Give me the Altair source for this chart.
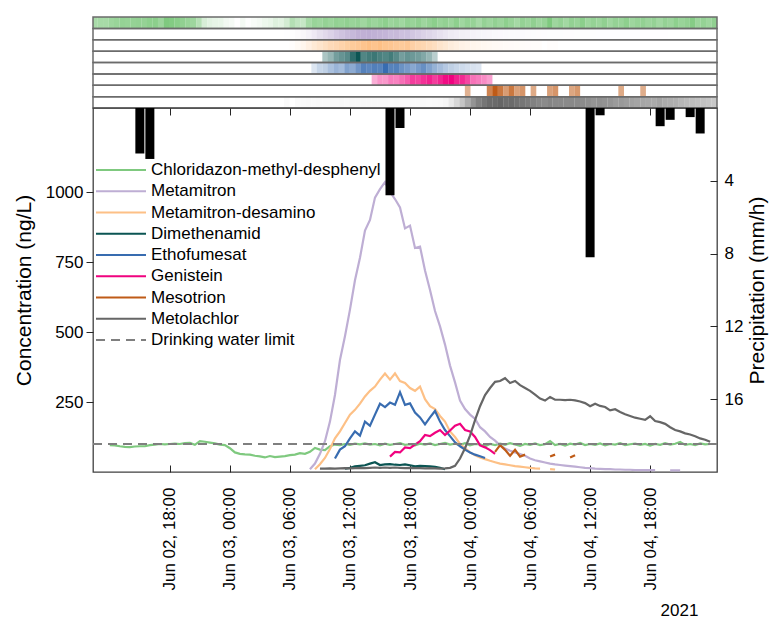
import altair as alt
import pandas as pd

FONT = "Liberation Sans"
W, H = 624, 364
HEAT_H = 91

series_names = ["Chloridazon-methyl-desphenyl", "Metamitron", "Metamitron-desamino",
                "Dimethenamid", "Ethofumesat", "Genistein", "Mesotrion", "Metolachlor"]
series_colors = ["#7fc97f", "#beaed4", "#fdc086", "#0b5553",
                 "#386cb0", "#f0027f", "#bf5b17", "#666666"]
heat_zero_based = [False, True, True, True, True, True, True, True]
limit_label = "Drinking water limit"
limit_color = "#7f7f7f"
limit_value = 100

base_time = "2021-06-02 18:00"
step_hours = 0.5
series_start_hours = [-6.0, 14.0, 14.5, 17.5, 16.5, 22.0, 30.5, 14.0]

chloridazon = [96, 95, 92, 90, 89, 91, 92, 92, 96, 98,
               100, 99, 100, 101, 100, 103, 104, 97, 110, 108,
               105, 102, 98, 96, 85, 70, 65, 63, 62, 58,
               56, 52, 57, 53, 55, 57, 60, 62, 67, 65,
               72, 86, 80, 78, 92, 98, 96, 100, 97, 101,
               99, 102, 98, 100, 95, 101, 97, 100, 103, 97,
               99, 95, 101, 98, 102, 96, 100, 104, 98, 101,
               97, 103, 95, 100, 99, 92, 100, 96, 101, 97,
               103, 98, 93, 100, 97, 102, 96, 99, 110, 96,
               100, 94, 101, 98, 104, 96, 100, 97, 102, 95,
               100, 98, 103, 96, 99, 101, 97, 100, 94, 100,
               97, 103, 98, 101, 107, 97, 100, 96, 102, 99,
               100]
metamitron = [10, 30, 65, 110, 180, 275, 400, 485, 580, 685,
              765, 862, 900, 980, 1010, 1035, 1000, 975, 945, 870,
              880, 800, 805, 720, 650, 575, 520, 455, 380, 320,
              255, 225, 205, 190, 160, 145, 125, 112, 95, 84,
              76, 70, 64, 58, 48, 42, 38, 34, 30, 27,
              25, 23, 21, 19, 17, 15, 14, 12, 11, 10,
              10, 9, 9, 8, 8, 7, 7, 7, 7, 7,
              None, None, 6, 6, 6]
metamitron_desamino = [10, 28, 50, 82, 120, 145, 175, 205, 222, 244,
                       270, 290, 305, 330, 352, 330, 352, 325, 318, 300,
                       290, 305, 260, 235, 225, 200, 180, 145, 125, 100,
                       85, 70, 60, 52, 46, 40, 35, 30, 27, 24,
                       21, 19, 17, 15, 13, 12, None, 10, 9]
dimethenamid = [12, 15, 20, 22, 24, 30, 35, 25, 27, 28,
                26, 25, 27, 24, 20, 22, 21, 20, 18, 15, 10]
ethofumesat = [48, 80, 92, 120, 145, 130, 180, 165, 205, 244,
               232, 248, 240, 285, 240, 245, 212, 195, 170, 195,
               218, 180, 150, 128, 106, 92, 80, 70, 62, 56, 50]
genistein = [55, 72, 70, 88, 85, 98, 110, 132, 128, 140,
             150, 132, 148, 165, 172, 150, 145, 125, 95, 88, 78, 65]
mesotrion = [45, None, None, None, 72, 96, 79, 58, 79, 55,
             62, None, 50, None, None, 55, 62, None, None, 52,
             60, None, None, None, None, None, None, None, 50, None,
             None, None, 48]
metolachlor = [10, None, 12, 12, 13, 12, 13, 14, 13, 14,
               15, 14, 15, 16, 15, 16, 15, 16, 15, 14,
               15, 14, 14, 13, 14, 13, 12, 13, 15, 22,
               48, 85, 130, 185, 235, 275, 300, 322, 325, 335,
               318, 325, 310, 300, 290, 276, 262, 255, 268, 258,
               258, 257, 258, 256, 252, 246, 235, 244, 236, 232,
               220, 224, 214, 206, 200, 194, 190, 186, 199, 182,
               178, 172, 160, 150, 145, 138, 134, 128, 120, 115, 108]
series_values = [chloridazon, metamitron, metamitron_desamino, dimethenamid,
                 ethofumesat, genistein, mesotrion, metolachlor]

precip_hours = [-3, -2, 22, 23, 42, 43, 49, 50, 52, 53]
precip_mmh = [2.5, 2.8, 4.8, 1.1, 8.2, 0.4, 1.0, 0.65, 0.5, 1.4]

x_domain = ["2021-06-02 10:49", "2021-06-05 00:11"]
heat_x_domain = ["2021-06-02 14:20", "2021-06-04 23:15"]
tick_times = ["2021-06-02 18:00", "2021-06-03 00:00", "2021-06-03 06:00",
              "2021-06-03 12:00", "2021-06-03 18:00", "2021-06-04 00:00",
              "2021-06-04 06:00", "2021-06-04 12:00", "2021-06-04 18:00"]
conc_ticks = [250, 500, 750, 1000]
conc_domain = [0, 1250]
precip_ticks = [4, 8, 12, 16]
precip_domain = [0, 20]


def dt(s):
    t = pd.Timestamp(s)
    return alt.DateTime(year=t.year, month=t.month, date=t.day,
                        hours=t.hour, minutes=t.minute)


base = pd.Timestamp(base_time)
rows = []
for name, start, vals in zip(series_names, series_start_hours, series_values):
    for i, v in enumerate(vals):
        rows.append({"series": name,
                     "time": base + pd.Timedelta(hours=start + i * step_hours),
                     "value": v})
df = pd.DataFrame(rows)
df["value"] = df["value"].astype(float)

heat = df.dropna().copy()
heat["t0"] = heat["time"] - pd.Timedelta(minutes=15)
heat["t1"] = heat["time"] + pd.Timedelta(minutes=16)

precip_df = pd.DataFrame({
    "time": [base + pd.Timedelta(hours=h) for h in precip_hours],
    "precip": precip_mmh,
})

xdom = [dt(s) for s in x_domain]
heat_xdom = [dt(s) for s in heat_x_domain]
xticks = [dt(s) for s in tick_times]
all_names = series_names + [limit_label]
all_colors = series_colors + [limit_color]
color_scale = alt.Scale(domain=all_names, range=all_colors)

# --- heat strips (one view, one band per series) ---
heat_y = alt.Y("series:N", scale=alt.Scale(domain=series_names, paddingInner=0, paddingOuter=0),
               axis=None)
heat_layers = []
for name, col, zb in zip(series_names, series_colors, heat_zero_based):
    sub = heat[heat["series"] == name]
    heat_layers.append(
        alt.Chart(sub).mark_rect(strokeWidth=0, clip=True).encode(
            x=alt.X("t0:T", scale=alt.Scale(domain=heat_xdom), axis=None),
            x2="t1:T",
            y=heat_y,
            color=alt.Color("value:Q",
                            scale=alt.Scale(range=["#ffffff", col], interpolate="rgb", zero=zb),
                            legend=None),
        )
    )
borders = alt.Chart(pd.DataFrame({"series": series_names})).mark_rect(
    fillOpacity=0, stroke="#6b6b6b", strokeWidth=1.5).encode(
    x=alt.value(0), x2=alt.value(W), y=heat_y)
heat_chart = alt.layer(*heat_layers, borders).resolve_scale(color="independent").properties(
    width=W, height=HEAT_H, view=alt.ViewBackground(stroke="transparent", strokeWidth=0))

# --- main plot ---
x_bottom = alt.X("time:T", scale=alt.Scale(domain=xdom),
                 axis=alt.Axis(orient="bottom", values=xticks, format="%b %d, %H:%M",
                               labelAngle=270, labelPadding=15, tickSize=7, offset=-7,
                               domain=False, grid=False, title="2021", titleX=586, titleY=145,
                               titleAngle=0, titleAlign="center", titleBaseline="middle",
                               titleFontSize=17))
conc_y = alt.Y("value:Q", scale=alt.Scale(domain=conc_domain),
               axis=alt.Axis(orient="left", values=conc_ticks, format="d", tickSize=7,
                             labelPadding=3, domain=False, grid=False,
                             title="Concentration (ng/L)", titlePadding=11))

lines = alt.Chart(df).mark_line(strokeWidth=2.2, invalid="break-paths-show-domains").encode(
    x=x_bottom,
    y=conc_y,
    color=alt.Color("series:N", scale=color_scale, legend=None),
    detail="series:N",
)
limit = alt.Chart(pd.DataFrame({"value": [limit_value]})).mark_rule(
    color=limit_color, strokeDash=[9, 6], strokeWidth=2.2).encode(y="value:Q")
conc_layer = alt.layer(lines, limit)

bars = alt.Chart(precip_df).mark_bar(color="black", size=9).encode(
    x=alt.X("time:T", scale=alt.Scale(domain=xdom),
            axis=alt.Axis(orient="top", values=xticks, labels=False, tickSize=7, offset=-7,
                          domain=False, grid=False, title=None)),
    y=alt.Y("precip:Q", scale=alt.Scale(domain=precip_domain, reverse=True),
            axis=alt.Axis(orient="right", values=precip_ticks, tickSize=7, offset=-7,
                          labelPadding=7, domain=False, grid=False,
                          title="Precipitation (mm/h)", titleAngle=270,
                          titleBaseline="top", titlePadding=4)),
)

leg_df = pd.DataFrame({"series": all_names})
leg_y = alt.Y("series:N", scale=alt.Scale(type="point", domain=all_names, range=[62, 232], padding=0),
              axis=None)
leg_rules = alt.Chart(leg_df).mark_rule(strokeWidth=2.2).encode(
    x=alt.value(3), x2=alt.value(53), y=leg_y,
    color=alt.Color("series:N", scale=color_scale, legend=None),
    strokeDash=alt.StrokeDash("series:N",
                              scale=alt.Scale(domain=all_names, range=[[1, 0]] * 8 + [[9, 6]]),
                              legend=None),
)
leg_text = alt.Chart(leg_df).mark_text(align="left", baseline="middle", font=FONT,
                                       fontSize=17, color="black").encode(
    x=alt.value(58), y=leg_y, text="series:N")
legend_layer = alt.layer(leg_rules, leg_text)

main = alt.layer(conc_layer, bars, legend_layer).resolve_scale(
    y="independent").resolve_axis(x="independent").properties(
    width=W, height=H, view=alt.ViewBackground(stroke="#404040", strokeWidth=1.3))

chart = alt.vconcat(heat_chart, main, spacing=0, bounds="flush").resolve_scale(
    color="independent", x="independent").properties(
    padding={"left": 4, "top": 8, "right": 0, "bottom": 0},
    background="white",
).configure_axis(
    labelFont=FONT, labelFontSize=17, labelColor="#000000",
    titleFont=FONT, titleFontSize=21, titleFontWeight="normal", titleColor="#000000",
    tickColor="#262626", tickWidth=1,
)

chart.save("out.html", embed_options={"renderer": "svg", "actions": False})
